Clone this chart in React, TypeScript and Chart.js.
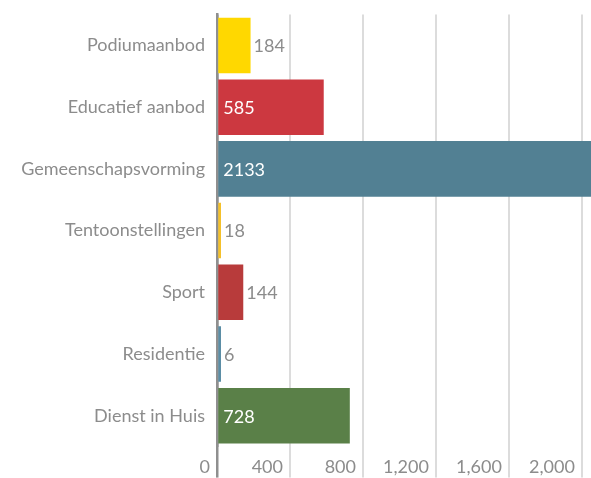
import React, { useEffect, useRef } from "react";
import { Chart, registerables } from "chart.js";

Chart.register(...registerables);

const categories = [
  "Podiumaanbod",
  "Educatief aanbod",
  "Gemeenschapsvorming",
  "Tentoonstellingen",
  "Sport",
  "Residentie",
  "Dienst in Huis",
];
const values = [184, 585, 2133, 18, 144, 6, 728];
const barColors = ["#FFD800", "#CC3840", "#528093", "#F4C02A", "#B83B3B", "#5B8DA5", "#5A8048"];
const xTicks = [0, 400, 800, 1200, 1600, 2000];
const xMax = 2050;

const FONT = "Lato, 'Open Sans', sans-serif";
const GREY = "#8c8c8c";

const valueLabels = {
  id: "valueLabels",
  afterDatasetsDraw(chart: any) {
    const ctx = chart.ctx;
    const meta = chart.getDatasetMeta(0);
    const area = chart.chartArea;
    ctx.save();
    ctx.font = `18px ${FONT}`;
    ctx.textBaseline = "middle";
    ctx.textAlign = "left";
    meta.data.forEach((bar: any, i: number) => {
      const text = String(values[i]);
      const w = ctx.measureText(text).width;
      const base = bar.base;
      const end = Math.min(bar.x, area.right);
      if (end - base > w + 20) {
        ctx.fillStyle = "#ffffff";
        ctx.fillText(text, base + 5, bar.y + 1);
      } else {
        ctx.fillStyle = GREY;
        ctx.fillText(text, end + 3, bar.y + 1);
      }
    });
    ctx.restore();
  },
};

export default function App() {
  const ref = useRef<HTMLCanvasElement>(null);
  useEffect(() => {
    document.body.style.margin = "0";
    const chart = new Chart(ref.current!, {
      type: "bar",
      data: {
        labels: categories,
        datasets: [
          {
            data: values,
            backgroundColor: barColors,
            borderWidth: 0,
            categoryPercentage: 1,
            barPercentage: 0.9,
            minBarLength: 4,
          },
        ],
      },
      options: {
        indexAxis: "y",
        animation: false,
        responsive: false,
        maintainAspectRatio: false,
        layout: { padding: { top: 14.6, right: 0, left: 0, bottom: 0 } },
        plugins: { legend: { display: false }, tooltip: { enabled: false } },
        scales: {
          x: {
            min: 0,
            max: xMax,
            border: { display: false },
            grid: {
              color: (c: any) => (c.tick && c.tick.value === 0 ? "#8f8f8f" : "#dcdcdc"),
              lineWidth: (c: any) => (c.tick && c.tick.value === 0 ? 2.5 : 2),
              tickLength: 31,
              drawTicks: true,
            },
            afterBuildTicks: (scale: any) => {
              scale.ticks = xTicks.map((v) => ({ value: v }));
            },
            afterFit: (scale: any) => {
              scale.height = 31.4;
              scale.paddingLeft = 0;
              scale.paddingRight = 0;
            },
            ticks: {
              autoSkip: false,
              align: "end",
              labelOffset: -7,
              padding: -21,
              color: GREY,
              font: { family: FONT, size: 18 },
              maxRotation: 0,
            },
          },
          y: {
            z: 1,
            border: { display: true, color: "#8f8f8f", width: 2.5 },
            grid: { display: false, drawTicks: false },
            afterFit: (scale: any) => {
              scale.width = 217;
              scale.paddingTop = 0;
              scale.paddingBottom = 0;
            },
            ticks: {
              padding: 12,
              color: GREY,
              font: { family: FONT, size: 18 },
            },
          },
        },
      },
      plugins: [valueLabels],
    });
    return () => chart.destroy();
  }, []);
  return (
    <div style={{ position: "fixed", left: 0, top: 0, width: 591, height: 478 }}>
      <canvas ref={ref} width={591} height={478} style={{ display: "block" }} />
    </div>
  );
}
